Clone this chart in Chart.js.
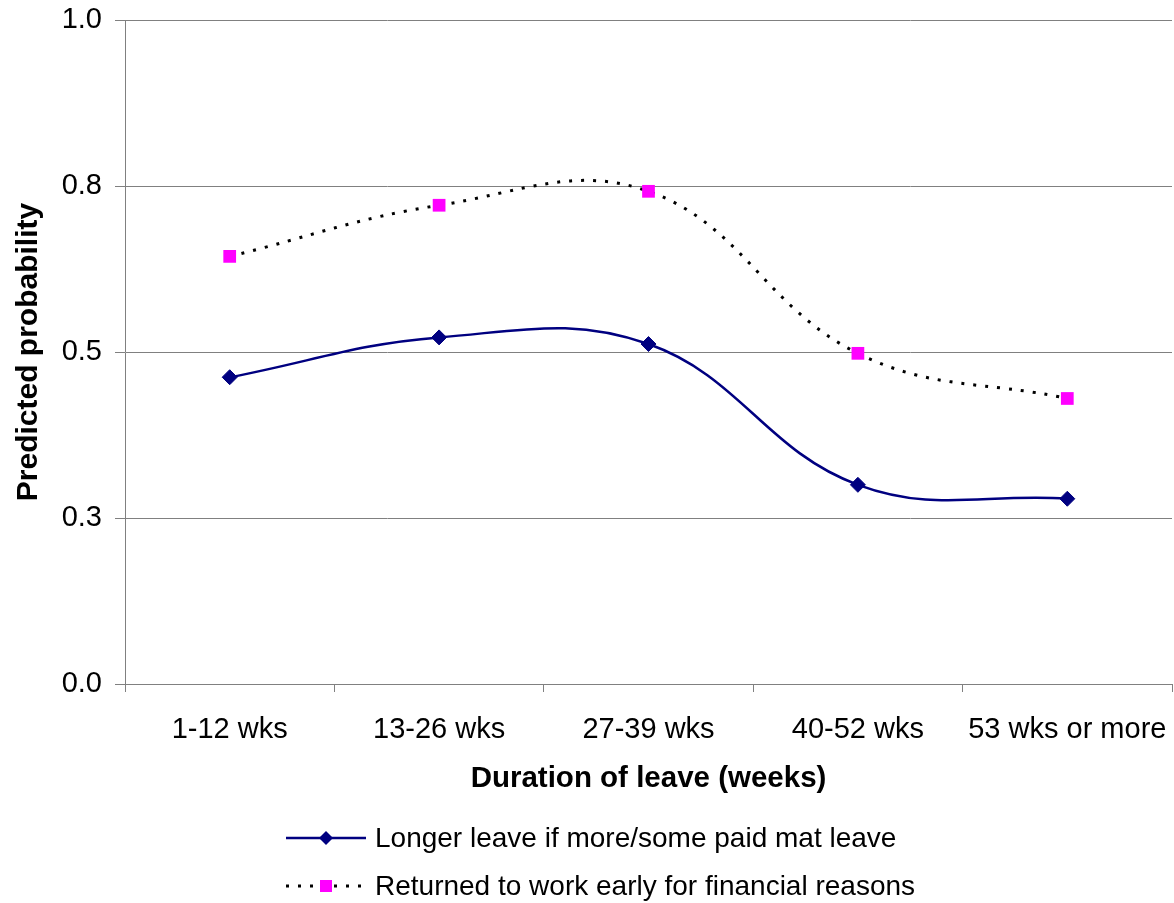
<!DOCTYPE html>
<html>
<head>
<meta charset="utf-8">
<script src="https://cdn.jsdelivr.net/npm/chart.js@4.4.0/dist/chart.umd.min.js"></script>
<style>
  html, body { margin: 0; padding: 0; background: #ffffff; }
  #wrap { width: 1174px; height: 903px; position: relative; }
</style>
</head>
<body>
<div id="wrap"><canvas id="c" width="1174" height="903"></canvas></div>
<script>
// Categories and predicted probabilities
const categories = ['1-12 wks', '13-26 wks', '27-39 wks', '40-52 wks', '53 wks or more'];
const longerLeave = [0.462, 0.522, 0.512, 0.300, 0.279];
const returnedEarly = [0.644, 0.721, 0.742, 0.498, 0.430];

// Value axis ticks and their printed labels
const yTickValues = [0, 0.25, 0.5, 0.75, 1];
const yTickLabels = ['0.0', '0.3', '0.5', '0.8', '1.0'];

const seriesNames = [
  'Longer leave if more/some paid mat leave',
  'Returned to work early for financial reasons'
];
const xTitle = 'Duration of leave (weeks)';
const yTitle = 'Predicted probability';

const FONT = '"Liberation Sans", Arial, Helvetica, sans-serif';
const NAVY = '#000080';
const MAGENTA = '#FF00FF';
const GRID = '#808080';

// Legend drawn below the axis title: line sample with marker, then label
const bottomLegend = {
  id: 'bottomLegend',
  afterDraw(chart) {
    const ctx = chart.ctx;
    const rows = [
      { y: 838, color: NAVY, width: 2.5, dash: [], marker: 'diamond', fill: NAVY },
      { y: 886, color: '#000000', width: 3, dash: [3, 9], marker: 'square', fill: MAGENTA }
    ];
    const x0 = 286, x1 = 366, xm = 326, xt = 375;
    ctx.save();
    rows.forEach((r, i) => {
      ctx.beginPath();
      ctx.setLineDash(r.dash);
      ctx.lineWidth = r.width;
      ctx.strokeStyle = r.color;
      ctx.moveTo(x0, r.y);
      ctx.lineTo(x1, r.y);
      ctx.stroke();
      ctx.setLineDash([]);
      ctx.fillStyle = r.fill;
      ctx.beginPath();
      if (r.marker === 'diamond') {
        ctx.moveTo(xm, r.y - 7);
        ctx.lineTo(xm + 7, r.y);
        ctx.lineTo(xm, r.y + 7);
        ctx.lineTo(xm - 7, r.y);
        ctx.closePath();
      } else {
        ctx.rect(xm - 6, r.y - 6, 12, 12);
      }
      ctx.fill();
      ctx.fillStyle = '#000000';
      ctx.font = '28px ' + FONT;
      ctx.textAlign = 'left';
      ctx.textBaseline = 'middle';
      ctx.fillText(seriesNames[i], xt, r.y + 1);
    });
    ctx.restore();
  }
};

new Chart(document.getElementById('c'), {
  type: 'line',
  data: {
    labels: categories,
    datasets: [
      {
        label: seriesNames[0],
        data: longerLeave,
        borderColor: NAVY,
        borderWidth: 2.5,
        tension: 0.4,
        fill: false,
        pointStyle: 'rectRot',
        pointRadius: 7.5,
        pointBackgroundColor: NAVY,
        pointBorderColor: NAVY,
        pointBorderWidth: 1
      },
      {
        label: seriesNames[1],
        data: returnedEarly,
        borderColor: '#000000',
        borderWidth: 3,
        borderDash: [3, 9],
        borderCapStyle: 'butt',
        tension: 0.4,
        fill: false,
        pointStyle: 'rect',
        pointRadius: 9,
        pointBackgroundColor: MAGENTA,
        pointBorderColor: MAGENTA,
        pointBorderWidth: 0
      }
    ]
  },
  options: {
    responsive: false,
    animation: false,
    devicePixelRatio: 1,
    layout: {
      autoPadding: false,
      padding: { left: 0, right: 2, top: 20, bottom: 106 }
    },
    plugins: {
      legend: { display: false },
      tooltip: { enabled: false }
    },
    scales: {
      x: {
        type: 'category',
        offset: true,
        grid: {
          offset: true,
          drawOnChartArea: false,
          drawTicks: true,
          tickLength: 8,
          color: GRID,
          lineWidth: 1
        },
        border: { color: GRID, width: 1 },
        ticks: {
          color: '#000000',
          font: { family: FONT, size: 29 },
          padding: 21,
          maxRotation: 0,
          autoSkip: false
        },
        title: {
          display: true,
          text: xTitle,
          color: '#000000',
          font: { family: FONT, size: 29.5, weight: 'bold' },
          padding: { top: 0, bottom: 0 }
        },
        afterFit(scale) {
          scale.height = 113;
          scale.paddingLeft = 0;
          scale.paddingRight = 0;
        }
      },
      y: {
        min: 0,
        max: 1,
        afterBuildTicks(scale) {
          scale.ticks = yTickValues.map(v => ({ value: v }));
        },
        grid: {
          color: GRID,
          lineWidth: 1,
          tickLength: 10
        },
        border: { color: GRID, width: 1 },
        ticks: {
          color: '#000000',
          font: { family: FONT, size: 29 },
          padding: 13,
          callback: (v) => yTickLabels[yTickValues.indexOf(v)]
        },
        title: {
          display: true,
          text: yTitle,
          color: '#000000',
          font: { family: FONT, size: 30, weight: 'bold' },
          padding: { top: 11, bottom: 0 }
        },
        afterFit(scale) {
          scale.width = 125;
          scale.paddingTop = 0;
          scale.paddingBottom = 0;
        }
      }
    }
  },
  plugins: [bottomLegend]
});
</script>
</body>
</html>
